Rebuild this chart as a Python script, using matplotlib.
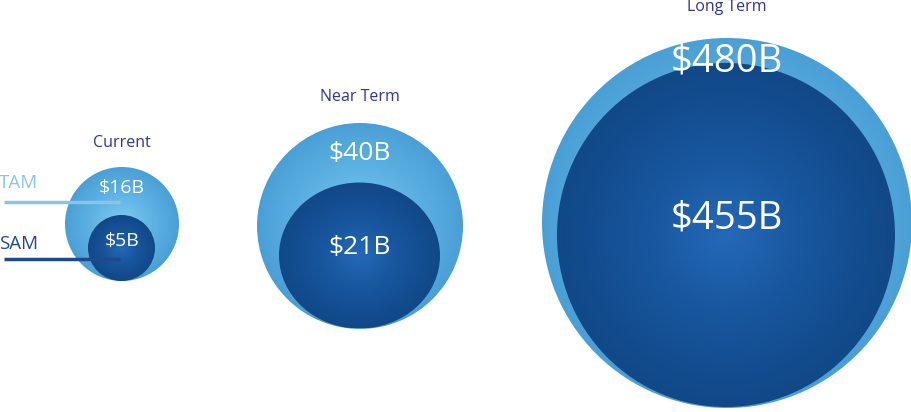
import numpy as np
import matplotlib.pyplot as plt
from matplotlib.patches import Circle, Ellipse
from matplotlib.colors import LinearSegmentedColormap

# ---------------- DATA ----------------
periods = ["Current", "Near Term", "Long Term"]
tam_values = [16, 40, 480]   # $B
sam_values = [5, 21, 455]    # $B

# ---------------- LAYOUT (pixels) ----------------
outer_cx = [122, 360, 727]
outer_cy = [224, 226, 223]
outer_r = [57, 103, 185]
inner_cx = [121.5, 359.5, 726]
inner_cy = [248, 255.5, 235]
inner_w = [67, 161, 338]
inner_h = [66, 146, 344]
title_y = [143, 97, 7]
tam_label_y = [188, 154, 61]
sam_label_y = [241, 248, 218]
value_size = [14, 19, 27.5]

light_cmap = LinearSegmentedColormap.from_list("light", ["#80cef2", "#60b5e5", "#4a9fd6"])
dark_cmap = LinearSegmentedColormap.from_list("dark", ["#2469b8", "#17559c", "#114887"])

plt.rcParams["font.family"] = ["Open Sans", "DejaVu Sans"]

fig = plt.figure(figsize=(9.12, 4.12), dpi=100)
ax = fig.add_axes([0, 0, 1, 1])
ax.set_xlim(0, 912)
ax.set_ylim(412, 0)
ax.axis("off")


def gradient_ellipse(cx, cy, w, h, cmap, z):
    n = 300
    g = np.linspace(-1, 1, n)
    xx, yy = np.meshgrid(g, g)
    dist = np.clip(np.sqrt(xx ** 2 + yy ** 2), 0, 1)
    shape = Ellipse((cx, cy), w, h, facecolor="none", edgecolor="none")
    ax.add_patch(shape)
    im = ax.imshow(dist, cmap=cmap, vmin=0, vmax=1,
                   extent=(cx - w / 2, cx + w / 2, cy + h / 2, cy - h / 2),
                   interpolation="bilinear", zorder=z)
    im.set_clip_path(shape)


for i, name in enumerate(periods):
    R = outer_r[i]
    gradient_ellipse(outer_cx[i], outer_cy[i], 2 * R, 2 * R, light_cmap, 1)
    gradient_ellipse(inner_cx[i], inner_cy[i], inner_w[i], inner_h[i], dark_cmap, 2)

    ax.text(outer_cx[i], title_y[i], name, ha="center", va="center",
            color="#2e3592", fontsize=11.5)
    ax.text(outer_cx[i], tam_label_y[i], f"${tam_values[i]}B", ha="center",
            va="center", color="white", fontsize=value_size[i], zorder=5)
    ax.text(outer_cx[i], sam_label_y[i], f"${sam_values[i]}B", ha="center",
            va="center", color="white", fontsize=value_size[i], zorder=5)

# ---------------- TAM / SAM LEGEND ----------------
ax.text(-1, 183, "TAM", ha="left", va="center", color="#8cc4e8", fontsize=13.5)
ax.plot([4, 120], [202, 202], color="#8cc4e8", linewidth=2.5, zorder=4,
        solid_capstyle="butt")
ax.text(-1, 244, "SAM", ha="left", va="center", color="#1d4a8f", fontsize=13.5)
ax.plot([4, 120], [259, 259], color="#1d4a8f", linewidth=2.5, zorder=4,
        solid_capstyle="butt")

fig.savefig("out.png", dpi=100, facecolor="white")
